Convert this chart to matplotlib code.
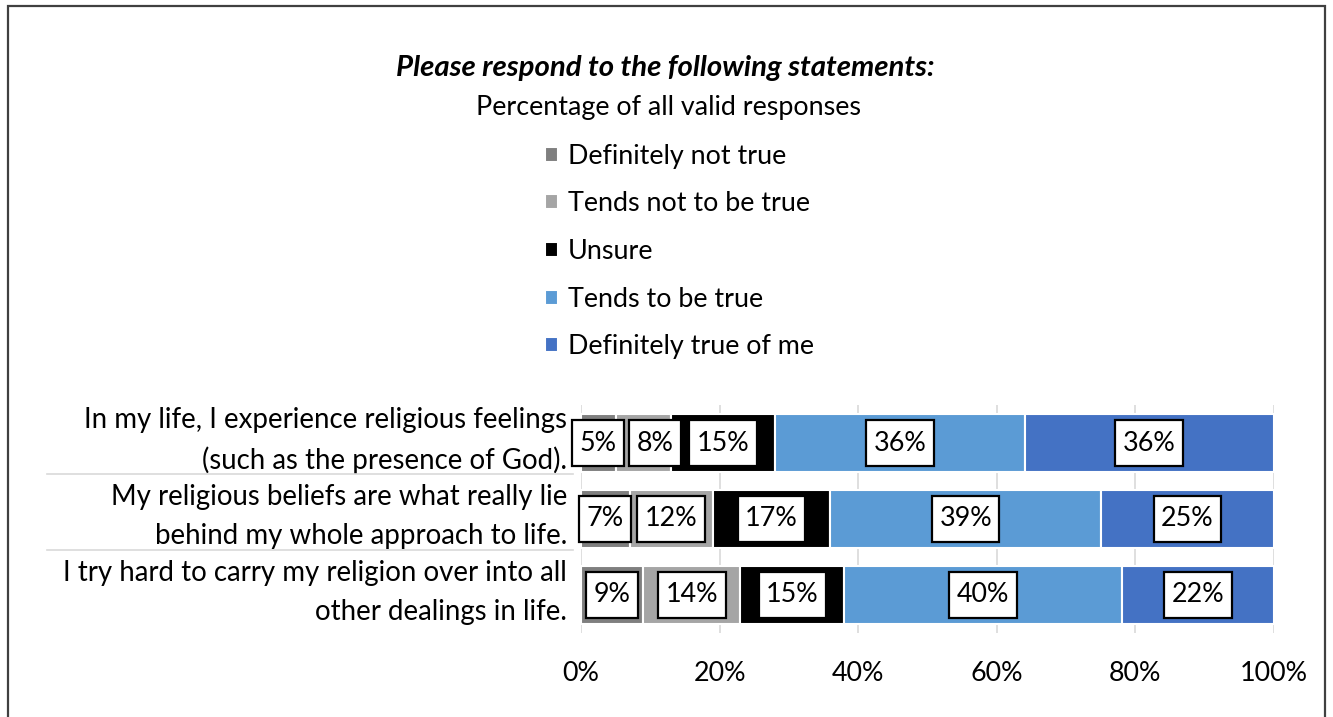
import matplotlib
matplotlib.use('Agg')
import matplotlib.pyplot as plt
from matplotlib.path import Path
from matplotlib.transforms import Affine2D, ScaledTranslation
from matplotlib.patches import Rectangle
from matplotlib.ticker import PercentFormatter

plt.rcParams['font.family'] = ['Lato', 'DejaVu Sans']

# 数据
statements = [
    'In my life, I experience religious feelings\n(such as the presence of God).',
    'My religious beliefs are what really lie\nbehind my whole approach to life.',
    'I try hard to carry my religion over into all\nother dealings in life.',
]
categories = ['Definitely not true', 'Tends not to be true', 'Unsure',
              'Tends to be true', 'Definitely true of me']
definitely_not = [5, 7, 9]
tends_not = [8, 12, 14]
unsure = [15, 17, 15]
tends_true = [36, 39, 40]
definitely_true = [36, 25, 22]
x_ticks = [0, 20, 40, 60, 80, 100]

colors = ['#7F7F7F', '#A5A5A5', '#000000', '#5B9BD5', '#4472C4']
FS = 19.4


def label_box(x0, y0, width, height, mutation_size):
    """数据标签的外框，左右与上下留白不同"""
    dx = 0.28 * mutation_size
    dy = 0.38 * mutation_size
    return Path.unit_rectangle().transformed(
        Affine2D().scale(width + 2 * dx, height + 2 * dy).translate(x0 - dx, y0 - dy))


fig = plt.figure(figsize=(13.33, 7.17), dpi=100)
ax = fig.add_axes([581 / 1333, 1 - 633 / 717, 693 / 1333, 228 / 717])

series = [definitely_not, tends_not, unsure, tends_true, definitely_true]
rows = list(range(len(statements)))
left = [0] * len(statements)
labels_by_row = {r: [] for r in rows}
handles = []
for name, vals, c in zip(categories, series, colors):
    bars = ax.barh(rows, vals, left=left, height=0.76, color=c,
                   edgecolor='white', linewidth=1.5, label=name, zorder=2)
    handles.append(bars)
    for r, v in enumerate(vals):
        t = ax.text(left[r] + v / 2, r, f'{v}%', ha='center', va='center',
                    fontsize=FS, color='black', zorder=4,
                    bbox=dict(boxstyle=label_box, facecolor='white',
                              edgecolor='black', linewidth=1.6))
        labels_by_row[r].append(t)
    left = [a + b for a, b in zip(left, vals)]

ax.set_xlim(0, 100)
ax.set_ylim(2.5, -0.5)
ax.set_xticks(x_ticks)
ax.xaxis.set_major_formatter(PercentFormatter(xmax=100, decimals=0))
ax.set_yticks(rows)
ax.set_yticklabels(statements, fontsize=19.9, linespacing=1.62,
                   multialignment='right')
ax.tick_params(axis='both', length=0)
ax.tick_params(axis='x', pad=20, labelsize=FS)
ax.tick_params(axis='y', pad=10)
# 分类文字整体上移一点
for lbl in ax.get_yticklabels():
    lbl.set_transform(lbl.get_transform() + ScaledTranslation(0, 0.12, fig.dpi_scale_trans))
ax.grid(axis='x', color='#D9D9D9', linewidth=1.2, zorder=0)
ax.set_axisbelow(True)
for s in ax.spines.values():
    s.set_visible(False)

# 分类标签之间的分隔线
for r in rows[:-1]:
    ax.plot([-0.77, -0.012], [r + 0.41, r + 0.41], transform=ax.get_yaxis_transform(),
            color='#D9D9D9', linewidth=1.2, clip_on=False)

# 标签重叠时向右挪
fig.canvas.draw()
renderer = fig.canvas.get_renderer()
px_per_unit = ax.get_window_extent(renderer).width / 100
for r in rows:
    prev = None
    for t in labels_by_row[r]:
        bb = t.get_bbox_patch().get_window_extent(renderer)
        if prev is not None and bb.x0 < prev.x1 + 5:
            shift = prev.x1 + 5 - bb.x0
            x, y = t.get_position()
            t.set_position((x + shift / px_per_unit, y))
            bb = bb.translated(shift, 0)
        prev = bb

fig.text(665 / 1333, 1 - 68 / 717, 'Please respond to the following statements:',
         ha='center', va='center', fontsize=21.2, fontweight='bold', style='italic')
fig.text(669 / 1333, 1 - 108 / 717, 'Percentage of all valid responses',
         ha='center', va='center', fontsize=FS)

fig.legend(handles=handles, loc='upper left', bbox_to_anchor=(534 / 1333, 1 - 133 / 717),
           frameon=False, fontsize=FS, handlelength=0.48, handleheight=0.48,
           handletextpad=0.37, labelspacing=0.84, borderaxespad=0)

# 外框
fig.patches.append(Rectangle((8 / 1333, -0.02), 1317 / 1333, 1.02 - 6 / 717,
                             transform=fig.transFigure, fill=False,
                             edgecolor='#404040', linewidth=1.6))

fig.savefig('out.png', dpi=100)
